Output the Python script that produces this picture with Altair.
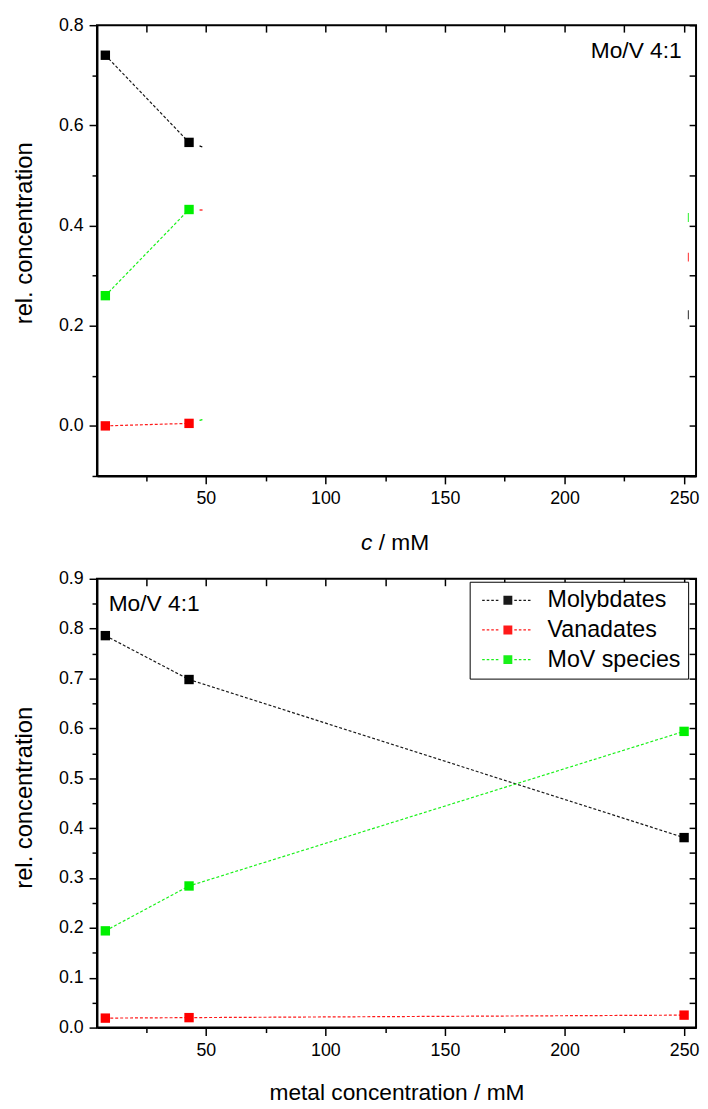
import altair as alt
import pandas as pd

FONT = "Liberation Sans"

series = ["Molybdates", "Vanadates", "MoV species"]
series_colors = ["#000000", "#ff0000", "#00f000"]

# ---------------- top panel (c / mM) ----------------
top_conc = [8, 43]
top_molybdates = [0.740, 0.566]
top_vanadates = [0.000, 0.005]
top_mov = [0.260, 0.432]

# cut-off markers at the right edge (250 mM points, only a sliver visible)
edge_conc = [251.8, 251.8, 251.8]
edge_vals = [0.222, 0.337, 0.416]

# short visible stubs of the lines leaving the 43 mM points
stub_start_conc = [47.4, 47.4, 47.4]
stub_end_conc = [48.9, 48.9, 48.9]
stub_start_vals = [0.559, 0.431, 0.011]
stub_end_vals = [0.556, 0.431, 0.013]

# ---------------- bottom panel (metal concentration / mM) ----------------
bot_conc = [8, 43, 250]
bot_molybdates = [0.786, 0.698, 0.381]
bot_vanadates = [0.019, 0.020, 0.025]
bot_mov = [0.194, 0.284, 0.594]

x_tick_values = [25, 50, 75, 100, 125, 150, 175, 200, 225, 250]
top_y_tick_values = [-0.1, 0.0, 0.1, 0.2, 0.3, 0.4, 0.5, 0.6, 0.7, 0.8]
bot_y_tick_values = [0.0, 0.05, 0.1, 0.15, 0.2, 0.25, 0.3, 0.35, 0.4, 0.45,
                     0.5, 0.55, 0.6, 0.65, 0.7, 0.75, 0.8, 0.85, 0.9]

note_text = "Mo/V 4:1"


def long_df(conc, values_by_series):
    rows = []
    for name, vals in zip(series, values_by_series):
        for c, v in zip(conc, vals):
            rows.append({"conc": c, "val": v, "series": name})
    return pd.DataFrame(rows)


top_df = long_df(top_conc, [top_molybdates, top_vanadates, top_mov])
bot_df = long_df(bot_conc, [bot_molybdates, bot_vanadates, bot_mov])
edge_df = pd.DataFrame({"conc": edge_conc, "val": edge_vals, "series": series})
stub_df = pd.DataFrame({"conc": stub_start_conc, "conc2": stub_end_conc,
                        "val": stub_start_vals, "val2": stub_end_vals,
                        "series": series})

color_scale = alt.Scale(domain=series, range=series_colors)
x_scale = alt.Scale(domain=[4.5, 255], nice=False, zero=False)

X_MAJOR = "datum.value % 50 === 0"


def bottom_x_axis(title=None, title_padding=14):
    kw = dict(orient="bottom", values=x_tick_values, format="d",
              labelExpr=f"{X_MAJOR} ? datum.label : ''",
              tickSize={"condition": {"test": X_MAJOR, "value": 8}, "value": 5},
              labelPadding=6, grid=False)
    if title is None:
        kw["title"] = None
    else:
        kw["title"] = title
        kw["titlePadding"] = title_padding
    return alt.Axis(**kw)


def left_y_axis(ticks, major_test, title_y):
    return alt.Axis(orient="left", values=ticks, format=".1f",
                    labelExpr=f"{major_test} ? datum.label : ''",
                    tickSize={"condition": {"test": major_test, "value": 8}, "value": 5},
                    labelPadding=6, title="rel. concentration", titlePadding=22,
                    titleY=title_y, titleFontSize=24, grid=False)


def top_frame_axis():
    return alt.Axis(orient="top", values=x_tick_values, labels=False, domain=False,
                    tickSize=7, offset=-7, title=None, grid=False)


def right_frame_axis(ticks):
    return alt.Axis(orient="right", values=ticks, labels=False, domain=False,
                    tickSize=7, offset=-7, title=None, grid=False)


# legend symbol: dotted line with a square in the middle.
# symbolSize 23*23 -> 11.5 px per path unit; symbol is 52 px wide.
LEG_UNIT = 11.5
LEG_HALF_W = 26.0


def legend_symbol_path():
    u = LEG_UNIT
    hs = 4.5 / u
    th = 0.65 / u
    dash, gap = 2.6 / u, 2.0 / u
    w = LEG_HALF_W / u

    def rect(a, b, lo, hi):
        return f"M{a:.4f},{lo:.4f}L{b:.4f},{lo:.4f}L{b:.4f},{hi:.4f}L{a:.4f},{hi:.4f}Z"

    parts = [rect(-hs, hs, -hs, hs)]
    x = -w
    while x + dash <= -hs - gap * 0.5:
        parts.append(rect(x, x + dash, -th, th))
        x += dash + gap
    x = hs + gap
    while x + dash <= w:
        parts.append(rect(x, x + dash, -th, th))
        x += dash + gap
    return "".join(parts)


def panel(df, y_domain, y_ticks, y_major, height, title_y, legend, extra_layers, x_title):
    y_scale = alt.Scale(domain=y_domain, nice=False, zero=False)
    lines = alt.Chart(df).mark_line(strokeDash=[3, 2], strokeWidth=1.2, opacity=0.9).encode(
        x=alt.X("conc:Q", scale=x_scale, axis=bottom_x_axis(**x_title)),
        y=alt.Y("val:Q", scale=y_scale, axis=left_y_axis(y_ticks, y_major, title_y)),
        color=alt.Color("series:N", scale=color_scale),
    )
    color_kw = {"scale": color_scale}
    if legend is None:
        color_kw["legend"] = None
    else:
        color_kw["legend"] = legend
    points = alt.Chart(df).mark_point(shape="square", filled=True, size=90, opacity=1).encode(
        x=alt.X("conc:Q", scale=x_scale, axis=None),
        y=alt.Y("val:Q", scale=y_scale, axis=None),
        color=alt.Color("series:N", **color_kw),
    )
    frame = alt.Chart(df).mark_point(opacity=0).encode(
        x=alt.X("conc:Q", scale=x_scale, axis=top_frame_axis()),
        y=alt.Y("val:Q", scale=y_scale, axis=right_frame_axis(y_ticks)),
    )
    layers = [lines, points, frame]
    for lay in extra_layers:
        layers.append(lay(y_scale))
    return alt.layer(*layers).resolve_axis(x="independent", y="independent").properties(
        width=606, height=height)


TOP_MAJOR = "abs(round(datum.value * 10)) % 2 === 0"
BOT_MAJOR = "round(datum.value * 100) % 10 === 0"


def top_stubs(y_scale):
    return alt.Chart(stub_df).mark_rule(strokeWidth=1.2, strokeDash=[3, 2]).encode(
        x=alt.X("conc:Q", scale=x_scale, axis=None), x2="conc2:Q",
        y=alt.Y("val:Q", scale=y_scale, axis=None), y2="val2:Q",
        color=alt.Color("series:N", scale=color_scale, legend=None),
    )


def top_edges(y_scale):
    return alt.Chart(edge_df).mark_tick(orient="vertical", size=9, thickness=1.2).encode(
        x=alt.X("conc:Q", scale=x_scale, axis=None),
        y=alt.Y("val:Q", scale=y_scale, axis=None),
        color=alt.Color("series:N", scale=color_scale, legend=None),
    )


def top_note(y_scale):
    return alt.Chart(pd.DataFrame({"conc": [249.0], "val": [0.749], "t": [note_text]})).mark_text(
        align="right", baseline="middle", font=FONT, fontSize=23, color="black").encode(
        x=alt.X("conc:Q", scale=x_scale, axis=None),
        y=alt.Y("val:Q", scale=y_scale, axis=None),
        text="t:N",
    )


def top_title_c(y_scale):
    return alt.Chart(pd.DataFrame({"t": ["c"]})).mark_text(
        align="right", baseline="alphabetic", font=FONT, fontSize=23, fontStyle="italic",
        color="black").encode(x=alt.value(278.5), y=alt.value(531), text="t:N")


def top_title_rest(y_scale):
    return alt.Chart(pd.DataFrame({"t": ["/ mM"]})).mark_text(
        align="left", baseline="alphabetic", font=FONT, fontSize=23,
        color="black").encode(x=alt.value(285), y=alt.value(531), text="t:N")


def bot_note(y_scale):
    return alt.Chart(pd.DataFrame({"conc": [9.4], "val": [0.85], "t": [note_text]})).mark_text(
        align="left", baseline="middle", font=FONT, fontSize=23, color="black").encode(
        x=alt.X("conc:Q", scale=x_scale, axis=None),
        y=alt.Y("val:Q", scale=y_scale, axis=None),
        text="t:N",
    )


bot_legend = alt.Legend(
    title=None, orient="none", legendX=377, legendY=3,
    symbolType=legend_symbol_path(), symbolSize=LEG_UNIT * LEG_UNIT * 4,
    symbolStrokeWidth=0,
    symbolOffset=LEG_HALF_W - LEG_UNIT + 5.4,
    labelOffset=28.4,
    labelFont=FONT, labelFontSize=23.5, labelColor="black",
    padding=7, rowPadding=5, strokeColor="black", fillColor="white",
)

top_panel = panel(top_df, [-0.1, 0.8], top_y_tick_values, TOP_MAJOR, 456, 210, None,
                  [top_stubs, top_edges, top_note, top_title_c, top_title_rest], {})
bot_panel = panel(bot_df, [0.0, 0.9], bot_y_tick_values, BOT_MAJOR, 454, 221, bot_legend,
                  [bot_note], {"title": "metal concentration / mM", "title_padding": 23})

chart = alt.vconcat(top_panel, bot_panel, spacing=13).resolve_scale(
    color="independent"
).properties(
    padding={"left": 3, "top": 1, "right": 0, "bottom": 0}
).configure_axis(
    labelFont=FONT, titleFont=FONT, labelFontSize=18, titleFontSize=23,
    labelColor="black", titleColor="black", titleFontWeight="normal",
    domainColor="black", domainWidth=2, tickColor="black", tickWidth=1.5,
).configure_view(
    stroke="black", strokeWidth=2
)

chart.save("out.html", embed_options={"renderer": "svg", "actions": False})
